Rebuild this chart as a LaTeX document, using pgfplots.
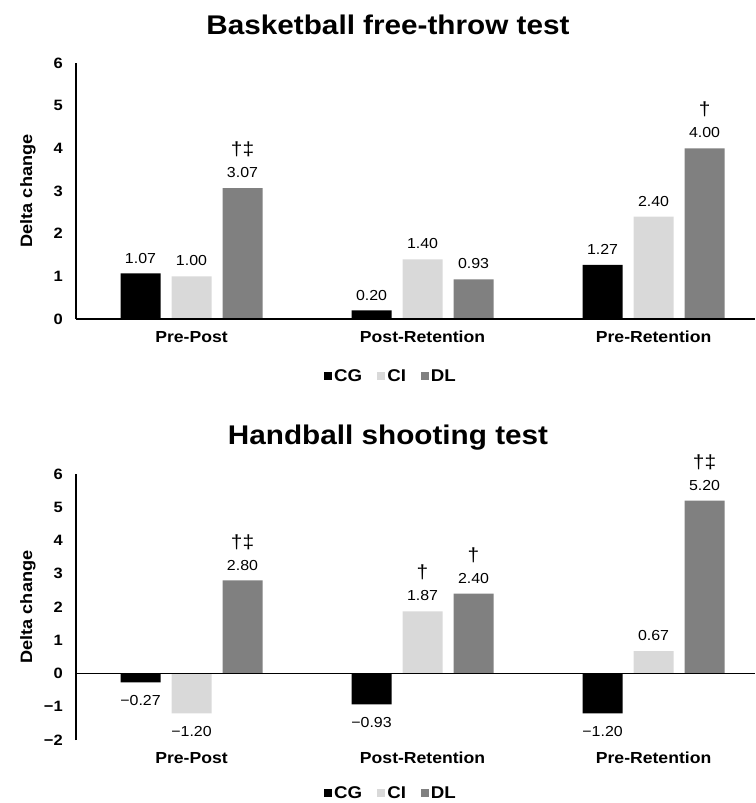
\documentclass[border=0pt]{standalone}
\usepackage{fontspec}
\setmainfont{Liberation Sans}[FakeStretch=1.1]
\usepackage{pgfplots}
\pgfplotsset{compat=1.18}
\definecolor{cgc}{HTML}{000000}
\definecolor{cic}{HTML}{D9D9D9}
\definecolor{dlc}{HTML}{808080}
\newcommand\sym[1]{{\fontsize{19}{22}\selectfont #1}}

\pgfplotsset{
  mybars/.style={
    scale only axis, width=679pt,
    xmin=-0.5, xmax=2.439,
    ybar=11pt, bar width=40pt,
    axis x line*=bottom, axis y line*=left,
    x axis line style={draw=none},
    y axis line style={-, line width=1.6pt},
    major tick length=0pt, tick style={draw=none},
    xtick={0,1,2},
    xticklabels={Pre-Post,Post-Retention,Pre-Retention},
    xticklabel style={font=\bfseries\fontsize{16}{16}\selectfont, anchor=north, inner sep=0pt, yshift=-12pt},
    yticklabel style={font=\bfseries\fontsize{15}{15}\selectfont, anchor=east, inner sep=0pt, xshift=-13pt},
    every axis y label/.style={at={(axis description cs:-0.0707,0.5)}, rotate=90, anchor=center, font=\bfseries\fontsize{16.5}{16.5}\selectfont},
    ylabel={Delta change},
    clip=false,
    point meta=explicit symbolic,
    visualization depends on={y \as \ry},
    nodes near coords=\pgfplotspointmeta,
    every node near coord/.append style={font=\fontsize{14.5}{22}\selectfont, align=center, inner xsep=0pt, text=black,
      /utils/exec={\ifdim\ry pt<0pt \pgfkeysalso{/tikz/anchor=north,/tikz/inner ysep=13pt}\else\pgfkeysalso{/tikz/anchor=south,/tikz/inner ysep=10pt}\fi}},
    legend image code/.code={\fill[##1] (0pt,-4pt) rectangle (8pt,4pt);},
    legend columns=3,
    legend style={draw=none, fill=none, font=\bfseries\fontsize{17}{17}\selectfont,
      /tikz/every even column/.append style={column sep=13pt}},
    title style={font=\bfseries\fontsize{27}{30}\selectfont, anchor=base},
  }
}

\begin{document}
\begin{tikzpicture}
\path[use as bounding box] (0pt,0pt) rectangle (755pt,-803pt);

% ---------------- Top chart ----------------
\begin{axis}[mybars,
  at={(76pt,-319pt)}, anchor=south west,
  height=256pt, ymin=0, ymax=6,
  ytick={0,1,2,3,4,5,6},
  yticklabels={0,1,2,3,4,5,6},
  title={Basketball free-throw test},
  title style={at={(axis description cs:0.4595,1)}, yshift=23pt},
  legend style={at={(axis description cs:0.464,-0.2227)}, anchor=center},
]
\addplot[fill=cgc, draw=none] coordinates {(0,1.07) [1.07] (1,0.20) [0.20] (2,1.27) [1.27]};
\addplot[fill=cic, draw=none] coordinates {(0,1.00) [1.00] (1,1.40) [1.40] (2,2.40) [2.40]};
\addplot[fill=dlc, draw=none] coordinates {(0,3.07) [{\sym{†‡}\\3.07}] (1,0.93) [0.93] (2,4.00) [{\sym{†}\\4.00}]};
\legend{CG,CI,DL}
\draw[line width=1.6pt] (axis cs:-0.5,0) -- (axis cs:2.439,0);
\end{axis}

% ---------------- Bottom chart ----------------
\begin{axis}[mybars,
  at={(76pt,-740pt)}, anchor=south west,
  height=266pt, ymin=-2, ymax=6,
  ytick={-2,-1,0,1,2,3,4,5,6},
  yticklabels={−2,−1,0,1,2,3,4,5,6},
  title={Handball shooting test},
  title style={at={(axis description cs:0.4595,1)}, yshift=24pt},
  legend style={at={(axis description cs:0.464,-0.199)}, anchor=center},
]
\addplot[fill=cgc, draw=none] coordinates {(0,-0.27) [−0.27] (1,-0.93) [−0.93] (2,-1.20) [−1.20]};
\addplot[fill=cic, draw=none] coordinates {(0,-1.20) [−1.20] (1,1.87) [{\sym{†}\\1.87}] (2,0.67) [0.67]};
\addplot[fill=dlc, draw=none] coordinates {(0,2.80) [{\sym{†‡}\\2.80}] (1,2.40) [{\sym{†}\\2.40}] (2,5.20) [{\sym{†‡}\\5.20}]};
\legend{CG,CI,DL}
\draw[line width=1.4pt] (axis cs:-0.5,0) -- (axis cs:2.439,0);
\end{axis}
\end{tikzpicture}
\end{document}
